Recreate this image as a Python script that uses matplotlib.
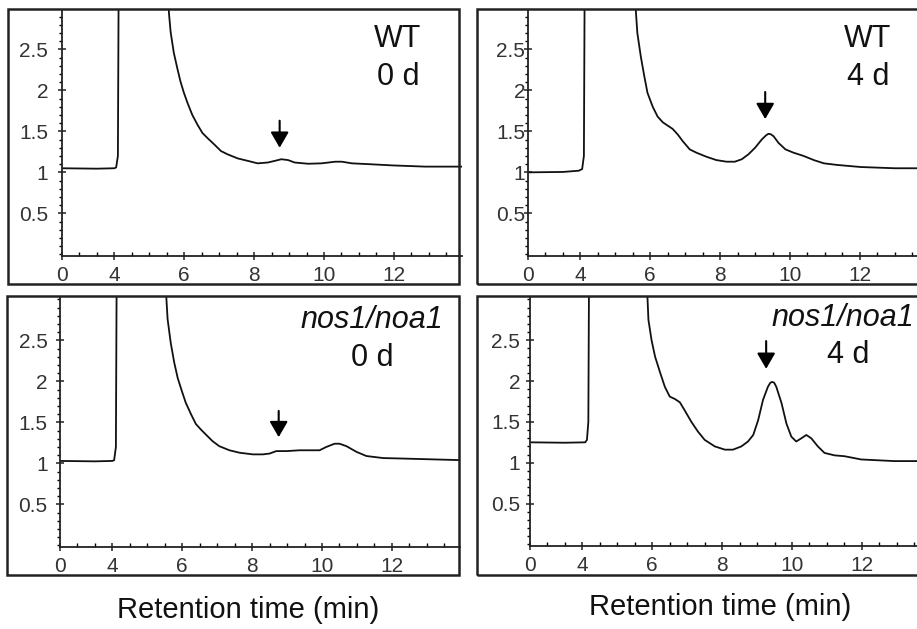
import matplotlib
matplotlib.use("Agg")
import matplotlib.pyplot as plt
from matplotlib.patches import Rectangle
from matplotlib.ticker import MultipleLocator

plt.rcParams['font.family'] = ['Liberation Sans', 'DejaVu Sans']

# traces (x = min, y = signal)
wt0_x = [2.5, 3.5, 4.0, 4.05, 4.1, 4.15, 5.4, 5.56, 5.61, 5.70, 5.8, 5.89, 5.99, 6.09, 6.23, 6.38, 6.52,
         6.66, 6.86, 7.05, 7.24, 7.53, 7.82, 8.1, 8.39, 8.59, 8.78, 8.97, 9.16, 9.55, 9.93, 10.32, 10.51,
         10.8, 11.28, 11.95, 12.9, 13.95]
wt0_y = [1.05, 1.045, 1.05, 1.06, 1.2, 6.0, 6.0, 2.95, 2.71, 2.46, 2.27, 2.11, 1.97, 1.85, 1.70, 1.58, 1.48,
         1.42, 1.34, 1.26, 1.22, 1.17, 1.14, 1.11, 1.12, 1.14, 1.16, 1.15, 1.12, 1.105, 1.11, 1.13, 1.13,
         1.11, 1.10, 1.085, 1.07, 1.07]

wt4_x = [2.5, 3.5, 3.95, 4.05, 4.1, 4.15, 5.4, 5.59, 5.63, 5.73, 5.83, 5.92, 6.07, 6.21, 6.36, 6.5, 6.64,
         6.79, 6.93, 7.13, 7.32, 7.61, 7.89, 8.18, 8.42, 8.62, 8.81, 9.0, 9.19, 9.31, 9.38, 9.45, 9.53,
         9.67, 9.87, 10.1, 10.39, 10.68, 10.97, 11.36, 12.03, 13.0, 13.95]
wt4_y = [1.0, 1.005, 1.02, 1.04, 1.2, 6.0, 6.0, 2.95, 2.70, 2.41, 2.17, 1.97, 1.80, 1.68, 1.61, 1.57, 1.53,
         1.46, 1.38, 1.28, 1.24, 1.19, 1.15, 1.13, 1.13, 1.16, 1.22, 1.30, 1.40, 1.45, 1.47, 1.465, 1.44,
         1.36, 1.28, 1.24, 1.20, 1.15, 1.11, 1.09, 1.065, 1.05, 1.05]

nos0_x = [2.5, 3.5, 4.0, 4.05, 4.1, 4.15, 5.4, 5.54, 5.58, 5.67, 5.77, 5.87, 5.99, 6.1, 6.25, 6.39, 6.54,
          6.68, 6.87, 7.06, 7.35, 7.64, 8.02, 8.31, 8.5, 8.69, 8.98, 9.36, 9.74, 9.93, 10.12, 10.36, 10.5,
          10.7, 10.99, 11.27, 11.75, 12.23, 13.95]
nos0_y = [1.03, 1.025, 1.03, 1.04, 1.2, 6.0, 6.0, 3.05, 2.76, 2.47, 2.23, 2.04, 1.88, 1.74, 1.60, 1.48, 1.41,
          1.35, 1.27, 1.21, 1.16, 1.13, 1.11, 1.11, 1.12, 1.15, 1.15, 1.16, 1.16, 1.16, 1.20, 1.24, 1.24,
          1.21, 1.14, 1.09, 1.065, 1.06, 1.04]

nos4_x = [2.5, 3.5, 4.08, 4.13, 4.17, 4.22, 5.7, 5.86, 5.89, 5.98, 6.08, 6.22, 6.36, 6.5, 6.65, 6.79, 6.93,
          7.12, 7.31, 7.5, 7.79, 8.08, 8.31, 8.55, 8.74, 8.89, 9.03, 9.17, 9.31, 9.38, 9.43, 9.49, 9.55, 9.7,
          9.84, 9.98, 10.12, 10.27, 10.41, 10.55, 10.74, 10.93, 11.22, 11.5, 11.98, 12.93, 13.95]
nos4_y = [1.25, 1.245, 1.25, 1.28, 1.5, 6.0, 6.0, 3.05, 2.75, 2.50, 2.30, 2.11, 1.93, 1.81, 1.78, 1.74, 1.64,
          1.50, 1.38, 1.28, 1.20, 1.16, 1.16, 1.20, 1.26, 1.34, 1.52, 1.77, 1.93, 1.98, 1.99, 1.98, 1.93, 1.73,
          1.48, 1.32, 1.26, 1.30, 1.34, 1.30, 1.20, 1.12, 1.09, 1.08, 1.04, 1.02, 1.02]

xticks = [2.5, 4, 6, 8, 10, 12]
xticklabels = ['0', '4', '6', '8', '10', '12']
yticks = [0.5, 1, 1.5, 2, 2.5]
yticklabels = ['0.5', '1', '1.5', '2', '2.5']

W, H = 917, 629
fig = plt.figure(figsize=(W / 100, H / 100), dpi=100)

panels = [
    dict(x=wt0_x, y=wt0_y, frame=(8, 9, 459, 284), ax=(62, 10, 462, 256), ytop=2.98, ypad=7,
         l1='WT', l2='0 d', lx=398, l1x=398, ly1=39, ly2=77, italic=False, arrow=(8.73, 1.63, 1.30)),
    dict(x=wt4_x, y=wt4_y, frame=(477, 9, 925, 284), ax=(528, 10, 928, 256), ytop=2.98, ypad=-1,
         l1='WT', l2='4 d', lx=868, l1x=868, ly1=39, ly2=77, italic=False, arrow=(9.29, 1.98, 1.65)),
    dict(x=nos0_x, y=nos0_y, frame=(7, 296, 459, 575), ax=(60, 297, 460, 547), ytop=3.03, ypad=6,
         l1='nos1/noa1', l2='0 d', lx=372, l1x=372, ly1=320, ly2=358, italic=True, arrow=(8.76, 1.64, 1.32)),
    dict(x=nos4_x, y=nos4_y, frame=(477, 296, 925, 575), ax=(530, 297, 930, 546), ytop=3.03, ypad=4,
         l1='nos1/noa1', l2='4 d', lx=848, l1x=843, ly1=318, ly2=355, italic=True, arrow=(9.26, 2.49, 2.15)),
]

for p in panels:
    fl, ft, fr, fb = p['frame']
    fig.patches.append(Rectangle((fl / W, 1 - fb / H), (fr - fl) / W, (fb - ft) / H,
                                 transform=fig.transFigure, fill=False,
                                 edgecolor='#222222', linewidth=1.8))
    al, at, ar, ab = p['ax']
    ax = fig.add_axes([al / W, 1 - ab / H, (ar - al) / W, (ab - at) / H])
    ax.patch.set_alpha(0)
    ax.plot(p['x'], p['y'], color='#111111', linewidth=1.3, solid_joinstyle='round')
    ax.set_xlim(2.5, 13.95)
    ax.set_ylim(-0.02, p['ytop'])
    ax.spines['top'].set_visible(False)
    ax.spines['right'].set_visible(False)
    for s in ('left', 'bottom'):
        ax.spines[s].set_linewidth(1.3)
        ax.spines[s].set_color('#222222')
    ax.set_xticks(xticks)
    ax.set_xticklabels(xticklabels)
    ax.set_yticks(yticks)
    ax.set_yticklabels(yticklabels)
    ax.xaxis.set_minor_locator(MultipleLocator(0.5))
    ax.yaxis.set_minor_locator(MultipleLocator(0.1))
    ax.tick_params(axis='both', which='major', direction='inout', length=6, width=1.1,
                   labelsize=15, colors='#222222', labelcolor='#333333')
    ax.tick_params(axis='x', which='major', pad=4)
    ax.tick_params(axis='y', which='major', pad=p['ypad'])
    ax.tick_params(axis='x', which='minor', direction='in', length=3, width=1)
    ax.tick_params(axis='y', which='minor', direction='out', length=2.5, width=1)
    ax.annotate('', xy=(p['arrow'][0], p['arrow'][2]), xytext=(p['arrow'][0], p['arrow'][1]),
                arrowprops=dict(arrowstyle='-|>,head_width=0.55,head_length=0.95',
                                color='black', linewidth=1.5, shrinkA=0, shrinkB=0))
    fig.text(p['l1x'] / W, 1 - p['ly1'] / H, p['l1'], ha='center', va='center', fontsize=22,
             style='italic' if p['italic'] else 'normal', color='#111111')
    fig.text(p['lx'] / W, 1 - p['ly2'] / H, p['l2'], ha='center', va='center', fontsize=22,
             color='#111111')

fig.text(248 / W, 1 - 610 / H, 'Retention time (min)', ha='center', va='center', fontsize=21,
         color='#111111')
fig.text(720 / W, 1 - 607 / H, 'Retention time (min)', ha='center', va='center', fontsize=21,
         color='#111111')

fig.savefig('out.png', dpi=100)
